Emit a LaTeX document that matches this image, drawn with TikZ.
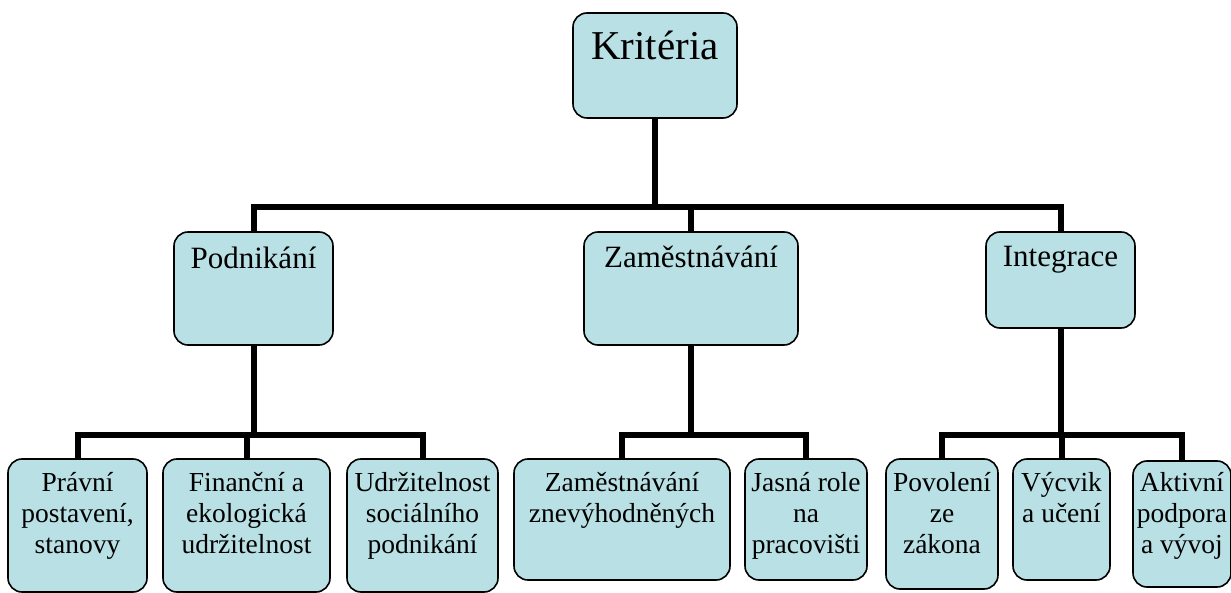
\documentclass[tikz,border=0pt]{standalone}
\usepackage{fontspec}
\setmainfont{Liberation Serif}
\definecolor{boxfill}{RGB}{185,224,228}
\tikzset{
    cell/.style={draw=black, fill=boxfill, line width=1.6pt, rounded corners=14pt, inner sep=0pt, outer sep=0pt},
    conn/.style={line width=6pt, line join=miter},
    topfont/.style={font=\fontsize{41}{48}\selectfont, anchor=base, inner sep=0pt},
    midfont/.style={font=\fontsize{31}{36}\selectfont, anchor=base, inner sep=0pt},
    leaffont/.style={font=\fontsize{27.5}{31}\selectfont, text width=220pt, align=flush center, anchor=base, inner sep=0pt}
}

\begin{document}
\begin{tikzpicture}[x=1pt,y=-1pt]
    \useasboundingbox (0,0) rectangle (1231,593);
    % junctions of the connectors
    \coordinate (jk) at (655,207);
    \coordinate (jp) at (253.5,435);
    \coordinate (jz) at (691,435);
    \coordinate (ji) at (1060.5,435);

    \node[cell, minimum width=164, minimum height=105] (krit) at (655,65.5) {};
    \node[cell, minimum width=159, minimum height=113] (podn) at (253.5,288.5) {};
    \node[cell, minimum width=214, minimum height=113] (zame) at (691,288.5) {};
    \node[cell, minimum width=149, minimum height=96] (inte) at (1060.5,280) {};

    \node[cell, minimum width=139, minimum height=133] (prav) at (77.5,525.5) {};
    \node[cell, minimum width=167, minimum height=133] (fina) at (246.5,525.5) {};
    \node[cell, minimum width=151, minimum height=133] (udrz) at (422.5,525.5) {};
    \node[cell, minimum width=216, minimum height=121] (zazn) at (622,519.5) {};
    \node[cell, minimum width=122, minimum height=121] (jasn) at (806,519.5) {};
    \node[cell, minimum width=112, minimum height=130] (povo) at (942,524) {};
    \node[cell, minimum width=97, minimum height=121] (vycv) at (1061.5,519.5) {};
    \node[cell, minimum width=98, minimum height=126] (aktv) at (1182,524) {};

    \draw[conn] (krit.south) -- (jk);
    \draw[conn] (podn.north) |- (jk) -| (inte.north);
    \draw[conn] (jk) -| (zame.north);

    \draw[conn] (podn.south) -- (jp);
    \draw[conn] (prav.north) |- (jp) -| (udrz.north);
    \draw[conn] (jp) -| (fina.north);

    \draw[conn] (zame.south) -- (jz);
    \draw[conn] (zazn.north) |- (jz) -| (jasn.north);

    \draw[conn] (inte.south) -- (ji);
    \draw[conn] (povo.north) |- (ji) -| (aktv.north);
    \draw[conn] (ji) -| (vycv.north);

    \node[topfont] (krit-t) at ([yshift=-47pt]krit.north) {Kritéria};
    \node[midfont] (podn-t) at ([yshift=-37pt]podn.north) {Podnikání};
    \node[midfont] (zame-t) at ([yshift=-36pt]zame.north) {Zaměstnávání};
    \node[midfont] (inte-t) at ([yshift=-35pt]inte.north) {Integrace};

    \node[leaffont] (prav-t) at ([yshift=-32pt]prav.north) {Právní\\postavení,\\stanovy};
    \node[leaffont] (fina-t) at ([yshift=-32pt]fina.north) {Finanční a\\ekologická\\udržitelnost};
    \node[leaffont] (udrz-t) at ([yshift=-32pt]udrz.north) {Udržitelnost\\sociálního\\podnikání};
    \node[leaffont] (zazn-t) at ([yshift=-32pt]zazn.north) {Zaměstnávání\\znevýhodněných};
    \node[leaffont] (jasn-t) at ([yshift=-32pt]jasn.north) {Jasná role\\na\\pracovišti};
    \node[leaffont] (povo-t) at ([yshift=-32pt]povo.north) {Povolení\\ze\\zákona};
    \node[leaffont] (vycv-t) at ([yshift=-32pt]vycv.north) {Výcvik\\a učení};
    \node[leaffont] (aktv-t) at ([yshift=-30pt]aktv.north) {Aktivní\\podpora\\a vývoj};
\end{tikzpicture}
\end{document}
